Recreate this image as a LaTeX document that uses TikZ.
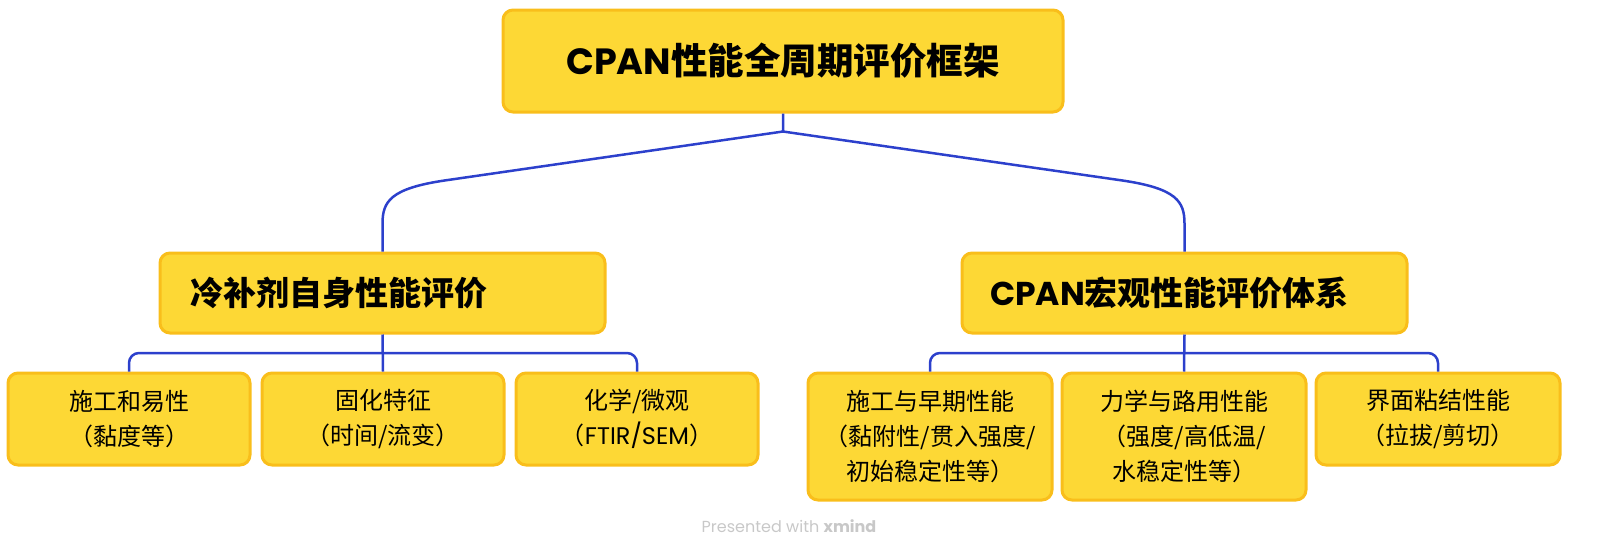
\documentclass[tikz,border=0pt]{standalone}
\usepackage{fontspec}
\setmainfont{Noto Sans CJK SC}
\newfontfamily\lat{Poppins}
\usetikzlibrary{calc}
\definecolor{boxfill}{RGB}{253,216,53}
\definecolor{boxedge}{RGB}{249,190,27}
\definecolor{linkblue}{RGB}{44,64,204}
\definecolor{footgray}{RGB}{200,200,200}
\tikzset{
  box/.style={draw=boxedge, fill=boxfill, line width=3pt, rounded corners=10pt, inner sep=0pt},
  rootbox/.style={box, minimum width=560pt, minimum height=102pt, font=\fontsize{36.5}{40}\selectfont\bfseries},
  midbox/.style={box, minimum height=80pt, text width=385pt, align=left, font=\fontsize{33}{38}\selectfont\bfseries},
  leafbox/.style={box, minimum width=242pt, align=center, font=\fontsize{24}{35}\selectfont},
  conn/.style={draw=linkblue, line width=2.5pt, rounded corners=10pt},
}
\begin{document}
\begin{tikzpicture}[x=1pt,y=-1pt]
\useasboundingbox (0,0) rectangle (1598,550);
\node[rootbox] (root) at (783,61) {{\lat\bfseries CPAN}性能全周期评价框架};
\node[midbox, minimum width=445pt] (mid1) at (382.5,293) {冷补剂自身性能评价};
\node[midbox, minimum width=445pt, text width=389pt] (mid2) at (1184.5,293) {{\lat\bfseries CPAN}宏观性能评价体系};
\node[leafbox, minimum height=92pt] (l1) at (129,419) {施工和易性\\（黏度等）};
\node[leafbox, minimum height=92pt] (l2) at (383,419) {固化特征\\（时间/流变）};
\node[leafbox, minimum height=92pt] (l3) at (637,419) {化学/微观\\（{\lat FTIR/SEM}）};
\node[leafbox, minimum width=244pt, minimum height=127pt] (r1) at (930,436.5) {施工与早期性能\\（黏附性/贯入强度/\\初始稳定性等）};
\node[leafbox, minimum width=244pt, minimum height=127pt] (r2) at (1184,436.5) {力学与路用性能\\（强度/高低温/\\水稳定性等）};
\node[leafbox, minimum width=244pt, minimum height=92pt] (r3) at (1438,419) {界面粘结性能\\（拉拔/剪切）};
\coordinate (fork) at ($(root.south)+(0,18)$);
\draw[draw=linkblue, line width=2.5pt] (root.south) -- (fork)
  -- ($(mid1.north)+(62,-71)$) .. controls ($(mid1.north)+(8,-63)$) and ($(mid1.north)+(0,-50)$) .. ($(mid1.north)+(0,-28)$) -- (mid1.north);
\draw[draw=linkblue, line width=2.5pt] (fork)
  -- ($(mid2.north)+(-62,-71)$) .. controls ($(mid2.north)+(-8,-63)$) and ($(mid2.north)+(0,-50)$) .. ($(mid2.north)+(0,-28)$) -- (mid2.north);
\coordinate (j1) at ($(mid1.south)!0.5!(l2.north)$);
\draw[conn] (mid1.south) -- (l2.north);
\draw[conn] (l1.north) -- (l1.north |- j1) -- (l3.north |- j1) -- (l3.north);
\coordinate (j2) at ($(mid2.south)!0.5!(r2.north)$);
\draw[conn] (mid2.south) -- (r2.north);
\draw[conn] (r1.north) -- (r1.north |- j2) -- (r3.north |- j2) -- (r3.north);
\node[text=footgray, font=\fontsize{16}{20}\selectfont\lat] (foot) at (789,526) {Presented with \textbf{xmind}};
\end{tikzpicture}
\end{document}
